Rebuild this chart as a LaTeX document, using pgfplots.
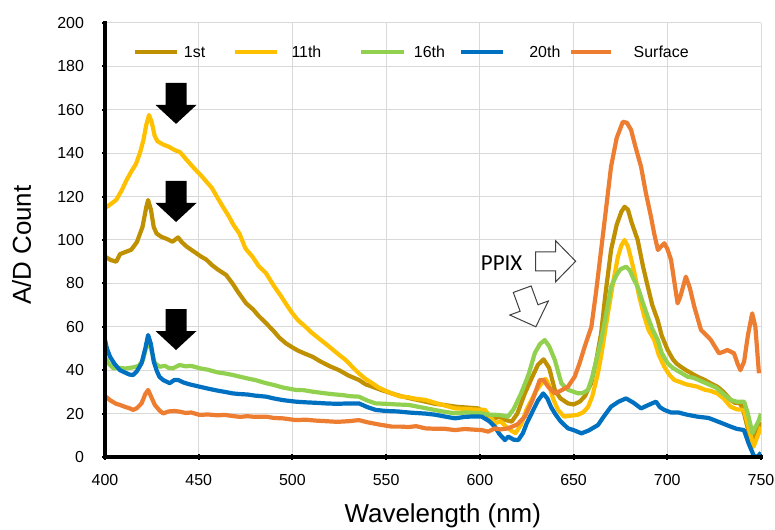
\documentclass[border=0pt]{standalone}
\usepackage{fontspec}
\setmainfont{Liberation Sans}
\newfontfamily\calibri{Carlito}
\usepackage{pgfplots}
\pgfplotsset{compat=1.18}
\definecolor{cfirst}{HTML}{BF9000}
\definecolor{celev}{HTML}{FFC000}
\definecolor{csixt}{HTML}{92D050}
\definecolor{ctwen}{HTML}{0070C0}
\definecolor{csurf}{HTML}{ED7D31}
\definecolor{gridgray}{HTML}{D9D9D9}
\definecolor{outl}{HTML}{404040}

% spectra, (wavelength nm, A/D count)
\pgfplotstableread{
x y
400 92.3
403 90.8
406 90.0
408 93.5
411 94.5
414 95.5
417 99
420 106
422 115
423 118.4
424.5 114
426 106
427.5 103
430 101.5
433 100.5
436 99.2
439 101.2
441 99
443.5 97
446 95.5
448.7 93.9
451 92.5
454 91
457 88.5
460 86.5
464.6 83.9
468 80
471 76
475.3 70.8
479 68
482 65
486 61.6
490 58
493 55
496.5 52.4
500 50.5
503 49
507 47.5
510.7 46.2
515 44
520 41.8
524.9 40
530 37.5
535.5 35.5
539 33.5
542.6 32.4
547 31
553 29.3
558 28
563 27
571 25.5
576 24.5
581 24
587 23.2
593 22.8
599 22.4
603 20.5
606.3 17
610 18.6
614 17
617 16.3
620 20
624 29.3
628 37
631 42.5
634 45
637 41
640 30.9
643 27
647 24.7
650 24.2
653.3 25.5
656 28
659.4 34
662 44
664.7 57
667 75
670 95.4
673 107
675.5 113
677.2 115.3
679 114
681 108
684.2 100
687 88
689.6 78.5
692 70
694.9 63
697 56
700.2 49.3
703 45
705 43
707.2 41.6
710 40
713 38.5
716.1 37
720 35.5
723 34
726.7 32.4
730 30
733.8 26.3
736 25
739 24.7
741 20
744.5 7.8
747 10
750 16
}\first

\pgfplotstableread{
x y
400 114.7
403 116.5
406 118.5
409 123
411.5 127.6
414 131.5
416.5 135
418.6 140
420.5 146
422 153
423.5 157.6
425 154
426.5 148
428 145.5
431 144
434 143
437 141.5
440 140.5
442.5 138
445.5 135
448.7 132
451 130
454 127
457 124
460 119.5
462.9 115.3
466 111
468.5 107
471.7 103
475 96
478.7 92.3
482 88
485.9 84.7
490 79
494 74
497 70
500 66.2
503 63
507 60
510 57.5
514 54.7
518 52
521.5 49.5
525 47
528.4 44.7
532 41.5
535.5 38.5
539 36
542.6 34
546 32
549 30.8
553 29.3
557 28
562 27.5
566 26.8
571 26.3
576 25
581 23.8
586.8 22.4
592 22.2
597 21.9
602.8 21.7
606 18
608 15.5
611 16.5
614 14
617 12
619 11
622 15
625 22
627.4 26
630 30.5
633 34
635 36
637 33
639 27
641.7 21.7
645 18.6
648 19
652 19.4
655 20.5
657.7 23
660 28
663 38.6
665 48
668.3 66
671 80
673.6 92
675.5 97.5
677.2 100
679 97
680.5 92
682.5 84.7
685 74
687.8 64.6
690 58.5
693 54
695.5 47
698.4 41.6
701 38
703.7 35.5
707 34.5
710 33.5
716 32.4
720 31
723 30.5
726.7 29.3
730 27
733.8 23.2
737 22
740.9 21.7
743 15
746 4.7
748.8 11
750 14
}\eleventh

\pgfplotstableread{
x y
400 46
402 43
404.4 40.9
408 41
411 40.8
415 41.3
418 42
420.3 44.7
421.8 50
423 53.1
424.5 50
426.6 43.2
429.2 41.6
432 42
434 41
436.3 40.9
439.8 42.4
443 41.8
446 42
450.5 40.9
455 40.2
460 39
464 38.5
468.2 37.8
472 37
476 36.2
480 35.5
486 34
490 33.2
495 32
501.8 30.9
506 30.8
510 30.2
517.8 29.3
522 28.9
527 28.5
531 28
535.5 27.8
540 26
544.4 24.7
550 24.5
556 24.2
562 24
568 23
574 22
580 21
586.8 20.1
592 20.5
597 20.3
601 20.1
605 19.5
610 19.4
615 18.6
618 22
622 29.3
626 38
629.3 47.8
632 52
634.6 53.9
637 51
640 44.7
643.5 34
647 31
652.4 29.3
655 29.5
657.7 30.9
660 37
662 44
664.7 53.9
667 64
670 78.5
673 84
675 86.5
678 87.7
680 86
682 82
684.2 78.5
687 71
689.6 64.6
692 59
694.9 54
697 48
700.2 43.2
703 41
707 39
710.8 37
714 36.5
718 35
722 33.5
726 32
730 29
733.8 26.3
737 25.5
741 25.5
743 20
745.4 11
748.9 17
750 20
}\sixteenth

\pgfplotstableread{
x y
400 54
401 50
402.7 46.2
405 43
408 40
411 38.8
413 38
415 37.8
417 39.5
419.5 43.2
421.5 50
423 56.2
424.5 52
426 44
427.5 40
429 37
431 35.5
434.5 34
437 35.5
439 35.5
442 34.3
445 33.5
450.5 32.4
455 31.5
460 30.6
464 30
468.2 29.3
472 29
476 28.8
480 28.3
486 27.8
490 27
495 26.2
501.8 25.5
507 25.2
512 25
517.8 24.7
524 24.5
530 24.7
535.5 24.7
540 23
544.4 21.7
550 21.2
556 21
562 20.5
571 20
576 19.5
581 18.7
586.8 17.8
592 18.5
597 18.7
601 18.6
605 16.5
608 14
610.5 10.5
613.4 7.8
615.2 9.4
618 8
620.5 7.8
623 11
625 15.5
627.6 20.1
631 26
633.8 29.3
636 27
638 23
640 20.1
643 16.5
647 13.2
650 12.4
654.2 10.9
658 12.2
663 14.7
666 18.5
670 23.2
674 25.5
678 27
682 25
686 22.4
690 24
694 25.5
696 23
698.4 21.7
702 20.5
706 20.5
710 19.6
716 18.6
722 18
728 16
733.8 14
737 13
740.9 12.4
743.5 6
746.2 0.5
748 0
750 2
}\twentieth

\pgfplotstableread{
x y
400 28.1
403 26
406 24.5
408 24
411 23
413 22.5
415 21.7
417 22.5
419.5 24.7
421.5 29
423 30.9
424.5 28
426.6 24
429 21.5
431 20.1
434 21
437 21.2
439.8 20.9
443 20.3
446 20.5
450.5 19.4
455 19.6
460 19.2
464 19.4
468 18.9
472 18.5
476 18.8
480 18.5
486 18.6
490 18
495 17.8
501.8 17
507 17.2
512 16.8
518 16.5
524 16.2
530 16.5
535.5 17
540 16
546 15
553 14
558 14
562 13.8
566 14.2
571 13.2
576 13
581 13
586.8 12.4
592 12.9
597 12.6
601 12.4
604.5 11.7
608 13.2
611 12.7
615 13.2
620 15
624 18.6
628 26
632 35.5
634 35.5
636.4 32.4
640 29.3
643 30.5
647 32.4
650.6 37
653.2 43.2
656 51
659.5 60
662 76
664.7 95.4
667 112
670 133.8
673 147
676.3 154.5
678.5 154
680.7 150.7
683 143
686 133.8
688.5 122
691.3 110.7
693 103
695 95.4
696.7 97
698.4 98.5
700 96
702 90.8
705.5 70.8
707 74
709.9 83.1
712 78
714.4 69.3
718 58.5
721 56
723.2 54
727.6 47.8
730 48.5
732 49.3
735.6 47.8
737.5 43
739 40
741 44
743 56
745.3 66.2
747 60
748.9 38.6
}\surface

\begin{document}
\begin{tikzpicture}
\begin{axis}[
  scale only axis, width=656bp, height=434bp,
  xmin=400, xmax=750, ymin=0, ymax=200,
  xtick distance=50, ytick distance=20,
  axis lines=left, axis line style={-},
  grid=major, grid style={line width=1bp, gridgray},
  tick align=center, major tick length=5bp,
  tick style={black, line width=2bp},
  ticklabel style={font=\fontsize{16}{19}\selectfont},
  /pgf/number format/assume math mode=true,
  xticklabel style={yshift=-11bp},
  yticklabel style={xshift=-15bp},
  xlabel={Wavelength (nm)}, ylabel={A/D Count},
  label style={font=\fontsize{26}{30}\selectfont},
  xlabel style={at={(axis description cs:0.515,-0.136)}, anchor=center},
  ylabel style={at={(axis description cs:-0.127,0.488)}, anchor=center},
  every axis plot/.append style={line width=4.2bp, line join=round, no marks},
]
\addplot[cfirst] table {\first};
\addplot[celev] table {\eleventh};
\addplot[csixt] table {\sixteenth};
\addplot[ctwen] table {\twentieth};
\addplot[csurf] table {\surface};

% legend, laid out as in the reference
\draw[cfirst, line width=4.5bp] (axis cs:415.9,186.6) -- (axis cs:438.3,186.6);
\node[anchor=west, inner sep=0pt, font=\fontsize{16}{19}\selectfont] at (axis cs:442,186.6) {1st};
\draw[celev, line width=4.5bp] (axis cs:469.6,186.6) -- (axis cs:491.9,186.6);
\node[anchor=west, inner sep=0pt, font=\fontsize{16}{19}\selectfont] at (axis cs:499.4,186.6) {11th};
\draw[csixt, line width=4.5bp] (axis cs:536.5,186.6) -- (axis cs:559.4,186.6);
\node[anchor=west, inner sep=0pt, font=\fontsize{16}{19}\selectfont] at (axis cs:564.7,186.6) {16th};
\draw[ctwen, line width=4.5bp] (axis cs:590.2,186.6) -- (axis cs:612.5,186.6);
\node[anchor=west, inner sep=0pt, font=\fontsize{16}{19}\selectfont] at (axis cs:626.3,186.6) {20th};
\draw[csurf, line width=4.5bp] (axis cs:648.6,186.6) -- (axis cs:669.9,186.6);
\node[anchor=west, inner sep=0pt, font=\fontsize{16}{19}\selectfont] at (axis cs:682,186.6) {Surface};

\node[font=\calibri\fontsize{23}{27}\selectfont, inner sep=0pt] at (axis cs:611.6,89.3) {PPIX};

\coordinate (b1) at (axis cs:437.9,153.5);
\coordinate (b2) at (axis cs:437.9,108.3);
\coordinate (b3) at (axis cs:437.9,49.3);
\coordinate (o1) at (axis cs:651.1,90.2);
\coordinate (o2) at (axis cs:629.9,60.0);
\end{axis}

% heavy left and bottom axis lines, as Excel draws them
\draw[black, line width=3.5bp, line cap=rect]
  (current axis.north west) -- (current axis.south west) -- (current axis.south east);

% black block arrows, tip at the coordinate
\foreach \p in {b1,b2,b3}
  \fill[black] (\p) -- ++(-20.5bp,19bp) -- ++(10bp,0) -- ++(0,22bp)
    -- ++(21bp,0) -- ++(0,-22bp) -- ++(10bp,0) -- cycle;

% outlined arrows next to PPIX
\begin{scope}[shift={(o1)}]
  \draw[outl, line width=1bp, fill=white, line join=miter]
    (0,0) -- (-20bp,20.5bp) -- (-20bp,9.5bp) -- (-40bp,9.5bp)
    -- (-40bp,-9.5bp) -- (-20bp,-9.5bp) -- (-20bp,-20.5bp) -- cycle;
\end{scope}
\begin{scope}[shift={(o2)}, rotate=-70]
  \draw[outl, line width=1bp, fill=white, line join=miter]
    (0,0) -- (-20bp,20.5bp) -- (-20bp,9.5bp) -- (-40bp,9.5bp)
    -- (-40bp,-9.5bp) -- (-20bp,-9.5bp) -- (-20bp,-20.5bp) -- cycle;
\end{scope}

\pgfresetboundingbox
\path ([shift={(-105bp,-73bp)}]current axis.south west)
  rectangle ([shift={(14bp,23bp)}]current axis.north east);
\end{tikzpicture}
\end{document}
